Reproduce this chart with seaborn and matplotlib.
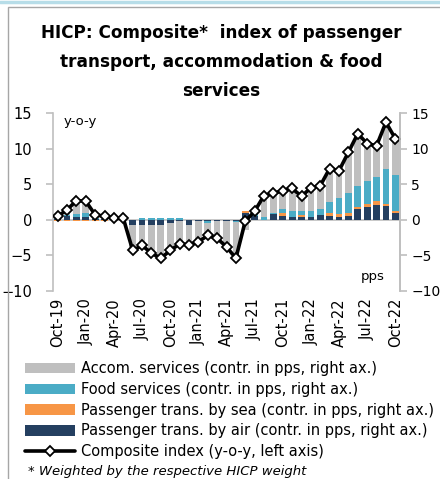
"""HICP composite index of passenger transport, accommodation & food services"""
import numpy as np
import pandas as pd
import seaborn as sns
from matplotlib import pyplot as plt
from matplotlib.lines import Line2D
from matplotlib.patches import Patch, Rectangle


# ----
# Data
# ----
months = pd.date_range("2019-10-01", periods=37, freq="MS")
tick_labels = ["Oct-19", "Jan-20", "Apr-20", "Jul-20", "Oct-20", "Jan-21", "Apr-21",
               "Jul-21", "Oct-21", "Jan-22", "Apr-22", "Jul-22", "Oct-22"]

air = [0.1, 0.5, 0.4, 0.4, 0.1, 0.05, 0.0, 0.0,
       -0.8, -0.8, -0.8, -0.8, -0.5, -0.2, -0.7, -0.2, -0.2, -0.2, -0.2, -0.2,
       0.9, 0.6, 0.0, 0.8, 0.6, 0.45, 0.35, 0.45, 0.7, 0.6, 0.45, 0.6, 1.5, 1.8, 2.1, 1.9, 1.0]
sea = [-0.2, -0.2, -0.2, -0.2, -0.2, -0.2, -0.2, 0.0,
       0.0, 0.0, 0.0, 0.0, 0.0, 0.0, 0.0, 0.0, 0.0, 0.0, 0.0, 0.0,
       0.35, 0.0, 0.0, 0.0, 0.3, 0.0, 0.3, 0.0, 0.0, 0.35, 0.3, 0.35, 0.3, 0.35, 0.6, 0.3, 0.3]
food = [0.2, 0.2, 0.4, 0.5, 0.2, 0.1, 0.1, 0.1,
        0.0, 0.3, 0.3, 0.3, 0.3, 0.3, 0.0, 0.0, -0.2, 0.0, 0.0, -0.1,
        0.0, 0.3, 0.4, 0.2, 0.6, 0.85, 0.6, 0.85, 0.85, 1.5, 2.3, 2.75, 3.0, 3.35, 3.3, 5.0, 5.0]
accom = [0.4, 0.9, 2.1, 1.9, 0.6, 0.55, 0.3, 0.1,
         -3.5, -3.1, -4.2, -4.9, -4.1, -3.5, -2.8, -2.9, -1.8, -2.4, -3.6, -5.1,
         -1.4, 0.3, 3.0, 2.7, 2.6, 3.1, 2.05, 3.2, 3.25, 4.75, 3.85, 5.8, 7.3, 5.2, 4.4, 6.5, 5.1]
composite = [0.5, 1.4, 2.7, 2.6, 0.7, 0.5, 0.2, 0.2,
             -4.3, -3.6, -4.7, -5.4, -4.3, -3.4, -3.5, -3.1, -2.2, -2.6, -3.8, -5.4,
             -0.2, 1.2, 3.4, 3.7, 4.1, 4.4, 3.3, 4.5, 4.8, 7.2, 6.9, 9.5, 12.1, 10.7, 10.4, 13.7, 11.4]

series = [
    ("Passenger trans. by air (contr. in pps, right ax.)", air, "#243f60"),
    ("Passenger trans. by sea (contr. in pps, right ax.)", sea, "#f79646"),
    ("Food services (contr. in pps, right ax.)", food, "#4bacc6"),
    ("Accom. services (contr. in pps, right ax.)", accom, "#bfbfbf"),
]
line_label = "Composite index (y-o-y, left axis)"

df = pd.DataFrame({"month": months, "composite": composite})
df["pos"] = np.arange(len(df))

# -----
# Chart
# -----
sns.set_style("white")
plt.rcParams["font.family"] = ["DejaVu Sans"]
plt.rcParams["text.color"] = "black"
plt.rcParams["xtick.color"] = "black"
plt.rcParams["ytick.color"] = "black"
grey = "#bfbfbf"

fig = plt.figure(figsize=(4.4, 4.79), dpi=100)
ax = fig.add_axes([53 / 440, 1 - 291 / 479, 347 / 440, 178 / 479])

pos_bottom = np.zeros(len(df))
neg_bottom = np.zeros(len(df))
for label, values, color in series:
    vals = np.array(values)
    bottom = np.where(vals >= 0, pos_bottom, neg_bottom)
    ax.bar(df["pos"], vals, bottom=bottom, width=0.72, color=color, linewidth=0, zorder=2)
    pos_bottom += np.clip(vals, 0, None)
    neg_bottom += np.clip(vals, None, 0)

ax.axhline(0, color=grey, lw=1.2, zorder=1)
sns.lineplot(data=df, x="pos", y="composite", ax=ax, color="black", lw=2.6,
             marker="D", markersize=5, markerfacecolor="white", markeredgecolor="black",
             markeredgewidth=1.3, zorder=3)

ax.set_xlim(-0.5, len(df) - 0.5)
ax.set_ylim(-10, 15)
ax.set_yticks([-10, -5, 0, 5, 10, 15])
ax.set_xticks(df["pos"][::3])
ax.set_xticklabels(tick_labels, rotation=90, fontsize=10.5)
ax.set_xlabel("")
ax.set_ylabel("")
ax.tick_params(axis="x", length=0, pad=5, colors="black")
ax.tick_params(axis="y", length=5, width=1.2, color=grey, labelcolor="black", labelsize=10.5,
               pad=10, direction="out", left=True)
for side in ["top", "bottom"]:
    ax.spines[side].set_visible(False)
for side in ["left", "right"]:
    ax.spines[side].set_color(grey)
    ax.spines[side].set_linewidth(1.2)

ax2 = ax.twinx()
ax2.set_ylim(-10, 15)
ax2.set_yticks([-10, -5, 0, 5, 10, 15])
ax2.tick_params(axis="y", length=5, width=1.2, color=grey, labelcolor="black", labelsize=10,
                pad=3, direction="out", right=True)
for side in ["top", "bottom", "left"]:
    ax2.spines[side].set_visible(False)
ax2.spines["right"].set_color(grey)
ax2.spines["right"].set_linewidth(1.2)

ax.text(0.03, 0.95, "y-o-y", transform=ax.transAxes, fontsize=9.5, va="center", ha="left")
ax.text(0.92, 0.08, "pps", transform=ax.transAxes, fontsize=9.5, va="center", ha="center")

# title
title_lines = ["HICP: Composite*  index of passenger", "transport, accommodation & food", "services"]
for i, line in enumerate(title_lines):
    fig.text(0.502, 1 - (33 + 29 * i) / 479, line, ha="center", va="center",
             fontsize=12.2, fontweight="bold", color="black")

# legend
handles = [Patch(facecolor=c, edgecolor="none") for _, _, c in series[::-1]]
labels = [lab for lab, _, _ in series[::-1]]
handles.append(Line2D([], [], color="black", lw=2.6, marker="D", markersize=5,
                      markerfacecolor="white", markeredgecolor="black", markeredgewidth=1.3))
labels.append(line_label)
fig.legend(handles, labels, loc="upper left", bbox_to_anchor=(25 / 440, 1 - 361 / 479),
           frameon=False, fontsize=10.5, handlelength=3.4, handleheight=0.7,
           handletextpad=0.45, labelspacing=0.4, borderpad=0, borderaxespad=0)

fig.text(28 / 440, 1 - 472 / 479, "* Weighted by the respective HICP weight",
         fontsize=9.5, style="italic", va="center", ha="left")

# frame
fig.patches.append(Rectangle((8 / 440, -0.1), 1.2, 1 - 7 / 479 + 0.1, transform=fig.transFigure,
                             fill=False, edgecolor="#a6a6a6", lw=1.0))
fig.add_artist(Line2D([0, 1], [1 - 2 / 479, 1 - 2 / 479], transform=fig.transFigure,
                      color="#b7dde8", lw=2.5))

fig.savefig("out.png", dpi=100)
